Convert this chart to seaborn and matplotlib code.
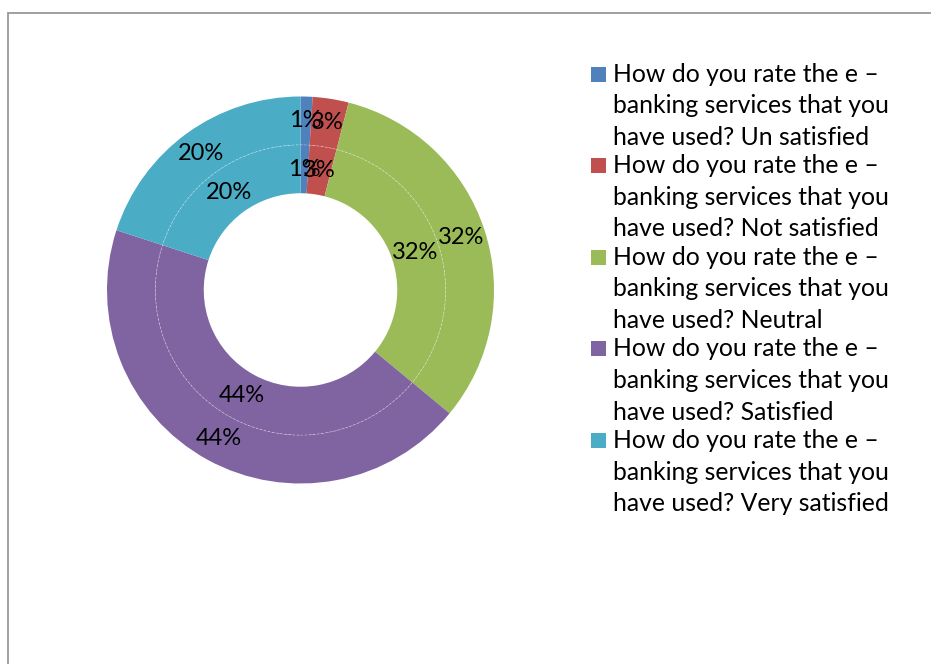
import matplotlib
matplotlib.use("Agg")
import matplotlib.pyplot as plt
from matplotlib.patches import Rectangle
import seaborn as sns

# Survey responses: share of respondents per rating (percent)
categories = ["Un satisfied", "Not satisfied", "Neutral", "Satisfied", "Very satisfied"]
question_lines = ["How do you rate the e \u2013", "banking services that you", "have used?"]
outer_values = [1, 3, 32, 44, 20]
inner_values = [1, 3, 32, 44, 20]
colors = ["#4F81BD", "#C0504D", "#9BBB59", "#8064A2", "#4BACC6"]

sns.set_theme(style="white")
plt.rcParams["font.family"] = ["Lato", "DejaVu Sans"]

W, H = 931, 664
fig = plt.figure(figsize=(W / 100, H / 100), dpi=100)
fig.patch.set_facecolor("white")

# chart frame (runs off the right and bottom edges)
fig.add_artist(Rectangle((8 / W, -0.1), 1.2, 1 - 13 / H + 0.1, transform=fig.transFigure,
                         fill=False, edgecolor="#999999", linewidth=1.3))

cx, cy, R = 300.5, 290.0, 193.5
ax = fig.add_axes([(cx - R) / W, (H - cy - R) / H, 2 * R / W, 2 * R / H])
ax.set_aspect("equal")

label_fs = 17
legend_fs = 17.8
common = dict(startangle=90, counterclock=False, colors=colors,
              autopct=lambda p: f"{p:.0f}%",
              textprops=dict(fontsize=label_fs, color="black"))

ax.pie(outer_values, radius=1.0, pctdistance=0.875,
       wedgeprops=dict(width=0.25, edgecolor="none"), **common)
ax.pie(inner_values, radius=0.75, pctdistance=0.625 / 0.75,
       wedgeprops=dict(width=0.25, edgecolor="none"), **common)

# faint dashed ring between the two series
circ = plt.Circle((0, 0), 0.75, fill=False, edgecolor="white", linewidth=0.5,
                  linestyle=(0, (3, 3)), alpha=0.5)
ax.add_patch(circ)

ax.set_xlim(-1, 1)
ax.set_ylim(-1, 1)
ax.axis("off")

# legend: wrapped entries with square swatches
base0, pitch, lead = 81.5, 91.6, 31.7
for i, (cat, col) in enumerate(zip(categories, colors)):
    b = base0 + i * pitch
    fig.add_artist(Rectangle((591 / W, (H - b) / H), 15 / W, 15 / H,
                             transform=fig.transFigure, facecolor=col, edgecolor="none"))
    lines = question_lines[:2] + [f"{question_lines[2]} {cat}"]
    for j, txt in enumerate(lines):
        fig.text(613 / W, (H - (b + j * lead)) / H, txt, fontsize=legend_fs,
                 ha="left", va="baseline", color="black")

fig.savefig("out.png", dpi=100, facecolor="white")
